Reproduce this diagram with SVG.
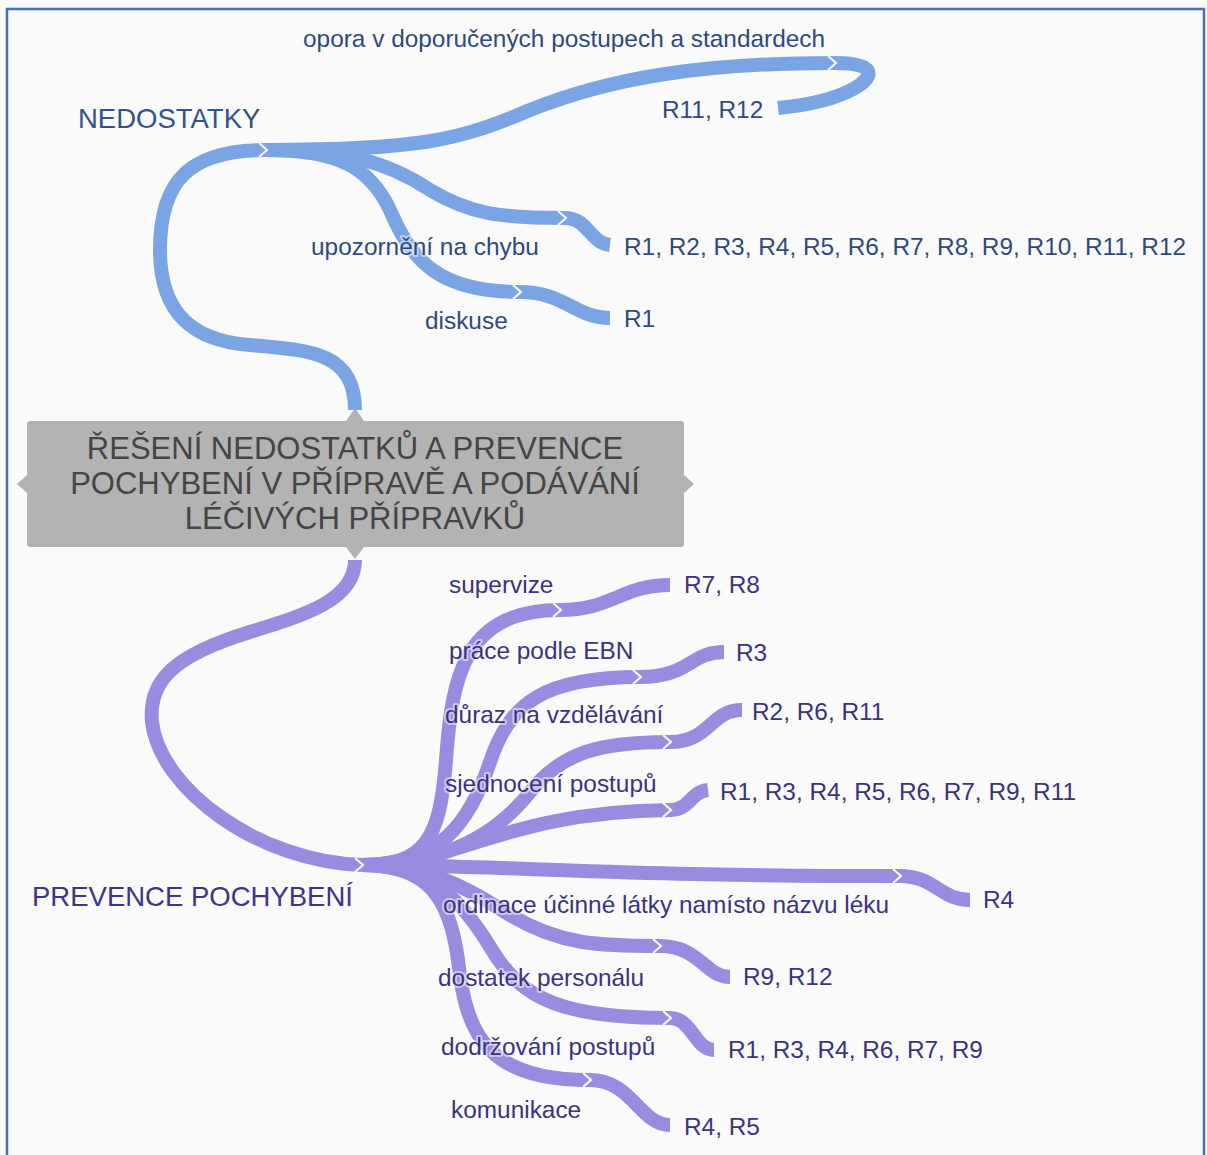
<svg xmlns="http://www.w3.org/2000/svg" width="1207" height="1155" viewBox="0 0 1207 1155">
<style>
.bg{fill:#fafafa}
.frame{fill:none;stroke:#4a6fb5;stroke-width:2.5}
.b{fill:none;stroke:#7ba4e5;stroke-width:14;stroke-linecap:butt}
.p{fill:none;stroke:#988ce1;stroke-width:14;stroke-linecap:butt}
.seam{fill:none;stroke:#fafafa;stroke-width:2}
.tb,.tp{font-family:"Liberation Sans",Arial,sans-serif;font-size:24.4px;stroke:#fafafa;stroke-opacity:0.55;stroke-width:4;paint-order:stroke;stroke-linejoin:round}
.tb{fill:#2f4a7c}
.tp{fill:#3a3380}
.catb{font-family:"Liberation Sans",Arial,sans-serif;font-size:27.5px;fill:#34528c}
.catp{font-family:"Liberation Sans",Arial,sans-serif;font-size:27.5px;fill:#3d3588}
.ct{font-family:"Liberation Sans",Arial,sans-serif;font-size:31px;fill:#454545;text-anchor:middle}
</style>
<rect class="bg" x="0" y="0" width="1207" height="1155"/>
<path class="frame" d="M7,1155 V9 H1204 V1155"/>

<g id="connectors">
  <!-- blue -->
  <path class="b" d="M355,410 C355,352 310,350 250,345 C180,340 160,300 160,250 C160,180 190,150 266,150"/>
  <path class="b" d="M266,150 C420,150 460,140 530,110 C610,78 700,63 835,63"/>
  <path class="b" d="M835,63 C880,63 872,78 855,88 C830,102 800,106 778,108"/>
  <path class="b" d="M266,150 C340,150 385,160 430,190 C470,214 500,218 565,218"/>
  <path class="b" d="M565,218 C588,218 590,243 610,245"/>
  <path class="b" d="M266,150 C340,150 370,168 390,210 C412,262 440,292 520,292"/>
  <path class="b" d="M520,292 C565,292 575,318 610,318"/>
  <!-- purple -->
  <path class="p" d="M355,560 C355,600 305,615 250,632 C175,655 148,680 152,722 C160,790 260,862 362,865"/>
  <path class="p" d="M362,865 C425,865 440,840 446,760 C452,680 462,610 560,610"/>
  <path class="p" d="M560,610 C612,610 622,585 670,585"/>
  <path class="p" d="M362,865 C440,865 470,822 490,762 C510,702 545,677 640,677"/>
  <path class="p" d="M640,677 C690,677 690,652 724,652"/>
  <path class="p" d="M362,865 C450,865 500,830 530,792 C562,752 600,742 670,742"/>
  <path class="p" d="M670,742 C710,742 710,710 742,710"/>
  <path class="p" d="M362,865 C460,865 500,812 670,810"/>
  <path class="p" d="M670,810 C690,810 690,792 708,790"/>
  <path class="p" d="M362,865 C500,865 600,876 900,876"/>
  <path class="p" d="M900,876 C935,876 940,900 970,900"/>
  <path class="p" d="M362,865 C430,865 470,890 510,915 C560,945 600,946 660,946"/>
  <path class="p" d="M660,946 C700,946 705,977 730,977"/>
  <path class="p" d="M362,865 C430,865 462,900 492,950 C522,1000 565,1018 670,1018"/>
  <path class="p" d="M670,1018 C692,1018 695,1050 714,1050"/>
  <path class="p" d="M362,865 C430,865 450,900 458,960 C466,1040 492,1080 590,1080"/>
  <path class="p" d="M590,1080 C632,1080 640,1125 670,1125"/>
  <!-- seams -->
  <path class="seam" d="M259,143 L267,150 L259,157"/>
  <path class="seam" d="M828,56 L836,63 L828,70"/>
  <path class="seam" d="M558,211 L566,218 L558,225"/>
  <path class="seam" d="M513,285 L521,292 L513,299"/>
  <path class="seam" d="M355,858 L363,865 L355,872"/>
  <path class="seam" d="M553,603 L561,610 L553,617"/>
  <path class="seam" d="M633,670 L641,677 L633,684"/>
  <path class="seam" d="M663,735 L671,742 L663,749"/>
  <path class="seam" d="M663,803 L671,810 L663,817"/>
  <path class="seam" d="M893,869 L901,876 L893,883"/>
  <path class="seam" d="M653,939 L661,946 L653,953"/>
  <path class="seam" d="M663,1011 L671,1018 L663,1025"/>
  <path class="seam" d="M583,1073 L591,1080 L583,1087"/>
</g>

<g id="root">
  <rect x="27" y="421" width="657" height="126" rx="3" fill="#b3b3b3"/>
  <path d="M355,408 L346,421 L364,421 Z" fill="#b3b3b3"/>
  <path d="M355,559 L346,547 L364,547 Z" fill="#b3b3b3"/>
  <path d="M17,484 L27,475 L27,493 Z" fill="#b3b3b3"/>
  <path d="M694,484 L684,475 L684,493 Z" fill="#b3b3b3"/>
  <text class="ct" x="355" y="459">ŘEŠENÍ NEDOSTATKŮ A PREVENCE</text>
  <text class="ct" x="355" y="494">POCHYBENÍ V PŘÍPRAVĚ A PODÁVÁNÍ</text>
  <text class="ct" x="355" y="529">LÉČIVÝCH PŘÍPRAVKŮ</text>
</g>

<g id="nedostatky"><text class="catb" x="78" y="128">NEDOSTATKY</text></g>
<g id="opora"><text class="tb" x="303" y="47">opora v doporučených postupech a standardech</text></g>
<g id="opora-r"><text class="tb" x="662" y="118">R11, R12</text></g>
<g id="upozorneni"><text class="tb" x="311" y="255">upozornění na chybu</text></g>
<g id="upozorneni-r"><text class="tb" x="624" y="255">R1, R2, R3, R4, R5, R6, R7, R8, R9, R10, R11, R12</text></g>
<g id="diskuse"><text class="tb" x="425" y="329">diskuse</text></g>
<g id="diskuse-r"><text class="tb" x="624" y="327">R1</text></g>

<g id="prevence"><text class="catp" x="32" y="906">PREVENCE POCHYBENÍ</text></g>
<g id="supervize"><text class="tp" x="449" y="593">supervize</text></g>
<g id="supervize-r"><text class="tp" x="684" y="593">R7, R8</text></g>
<g id="ebn"><text class="tp" x="449" y="659">práce podle EBN</text></g>
<g id="ebn-r"><text class="tp" x="736" y="661">R3</text></g>
<g id="vzdelavani"><text class="tp" x="445" y="723">důraz na vzdělávání</text></g>
<g id="vzdelavani-r"><text class="tp" x="752" y="720">R2, R6, R11</text></g>
<g id="sjednoceni"><text class="tp" x="445" y="792">sjednocení postupů</text></g>
<g id="sjednoceni-r"><text class="tp" x="720" y="800">R1, R3, R4, R5, R6, R7, R9, R11</text></g>
<g id="ordinace"><text class="tp" x="443" y="913">ordinace účinné látky namísto názvu léku</text></g>
<g id="ordinace-r"><text class="tp" x="983" y="908">R4</text></g>
<g id="personal"><text class="tp" x="438" y="986">dostatek personálu</text></g>
<g id="personal-r"><text class="tp" x="743" y="985">R9, R12</text></g>
<g id="dodrzovani"><text class="tp" x="441" y="1055">dodržování postupů</text></g>
<g id="dodrzovani-r"><text class="tp" x="728" y="1058">R1, R3, R4, R6, R7, R9</text></g>
<g id="komunikace"><text class="tp" x="451" y="1118">komunikace</text></g>
<g id="komunikace-r"><text class="tp" x="684" y="1135">R4, R5</text></g>
</svg>
